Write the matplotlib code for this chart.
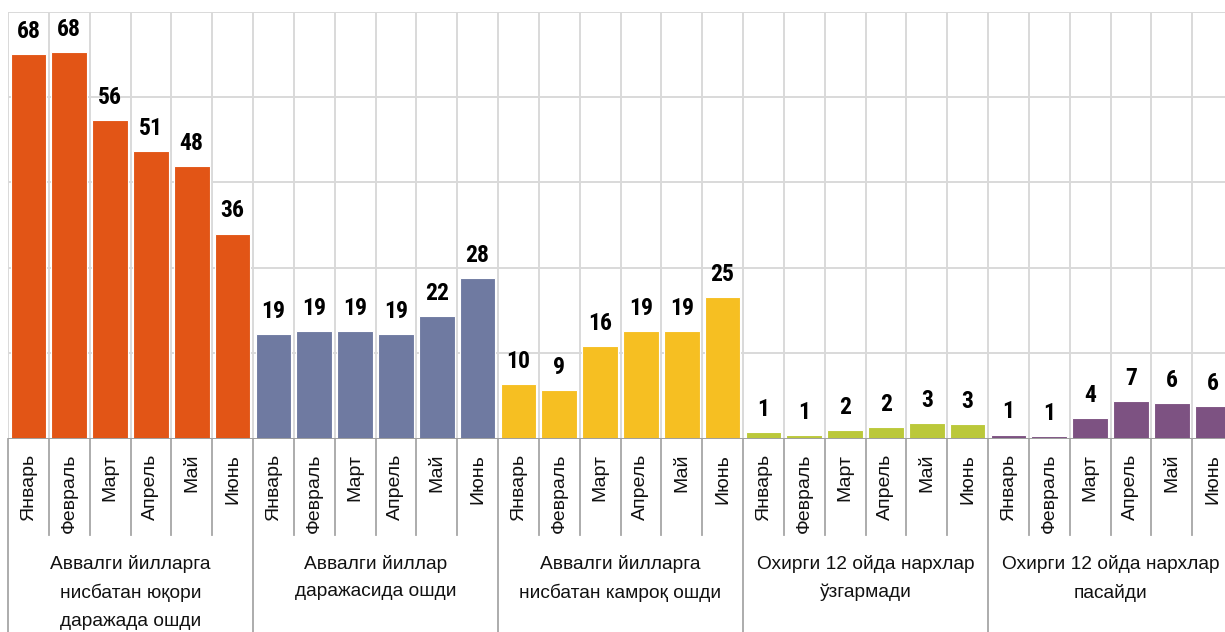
import matplotlib
matplotlib.use("Agg")
import numpy as np
import matplotlib.pyplot as plt
import matplotlib.transforms as mtrans
from matplotlib import font_manager

plt.rcParams['font.family'] = ['Liberation Sans', 'DejaVu Sans']

months = ["Январь", "Февраль", "Март", "Апрель", "Май", "Июнь"]
groups = [
    "Аввалги йилларга\nнисбатан юқори\nдаражада ошди",
    "Аввалги йиллар\nдаражасида ошди",
    "Аввалги йилларга\nнисбатан камроқ ошди",
    "Охирги 12 ойда нархлар\nўзгармади",
    "Охирги 12 ойда нархлар\nпасайди",
]
higher = [67.6, 67.9, 56.0, 50.5, 47.8, 36.0]
same_level = [18.3, 18.9, 18.9, 18.3, 21.5, 28.2]
lower = [9.5, 8.5, 16.3, 18.8, 18.8, 24.9]
unchanged = [1.2, 0.6, 1.5, 2.05, 2.7, 2.5]
decreased = [0.7, 0.5, 3.6, 6.6, 6.3, 5.7]
labels = [
    [68, 68, 56, 51, 48, 36],
    [19, 19, 19, 19, 22, 28],
    [10, 9, 16, 19, 19, 25],
    [1, 1, 2, 2, 3, 3],
    [1, 1, 4, 7, 6, 6],
]
colors = ["#E25516", "#6F7AA1", "#F6BF22", "#BBC83A", "#7D5282"]

series = [higher, same_level, lower, unchanged, decreased]

# narrow bold face for the value labels, if one is installed
names = {f.name for f in font_manager.fontManager.ttflist}
narrow = [n for n in ["Liberation Sans Narrow", "Roboto Condensed",
                      "Open Sans Condensed", "DejaVu Sans Condensed"] if n in names]
val_family = narrow[:1] + ["Liberation Sans"]

W, H = 1225, 632
fig = plt.figure(figsize=(W / 100, H / 100), dpi=100)
base_px, top_px = 438.5, 11.5
left_px, right_px = 8, 1233
ax = fig.add_axes([left_px / W, 1 - base_px / H,
                   (right_px - left_px) / W, (base_px - top_px) / H])
ax_h = base_px - top_px

def ay(px):
    # pixel row below the axes -> axes y fraction
    return -(px - base_px) / ax_h

n = len(months)
for g, vals in enumerate(series):
    x = np.arange(n) + g * n
    ax.bar(x, vals, width=0.87, color=colors[g], edgecolor="white",
           linewidth=0.8, zorder=3)
    for xi, v, lab in zip(x, vals, labels[g]):
        ax.annotate(str(lab), (xi, v), xytext=(0, 8), textcoords="offset points",
                    ha="center", va="bottom", fontsize=17, fontweight="bold",
                    family=val_family, stretch="condensed",
                    color="#000000", zorder=4)

total = n * len(series)
ax.set_xlim(-0.5, total - 0.5)
ax.set_ylim(0, 75)
for yv in np.arange(15, 76, 15):
    ax.axhline(yv, color="#d9d9d9", lw=1.4, zorder=1)
for xb in np.arange(-0.5, total, 1):
    ax.axvline(xb, color="#d9d9d9", lw=1.4, zorder=1)

for s in ax.spines.values():
    s.set_visible(False)
ax.set_xticks([])
ax.set_yticks([])
ax.axhline(0, color="#a0a0a0", lw=1.4, zorder=5)

trans = mtrans.blended_transform_factory(ax.transData, ax.transAxes)
for xb in np.arange(-0.5, total, 1):
    k = int(xb + 0.5)
    bottom = ay(640) if k % n == 0 else ay(535)
    ax.plot([xb, xb], [0, bottom], color="#a6a6a6", lw=1.3,
            transform=trans, clip_on=False)

for g in range(len(series)):
    for m, name in enumerate(months):
        ax.text(g * n + m, ay(454), name, rotation=90, ha="center", va="top",
                fontsize=14, color="#111111", transform=trans)
    ax.text(g * n + (n - 1) / 2, ay(555), groups[g], ha="center", va="top",
            fontsize=13.8, linespacing=1.78, color="#111111", transform=trans)

fig.savefig("out.png", dpi=100)
